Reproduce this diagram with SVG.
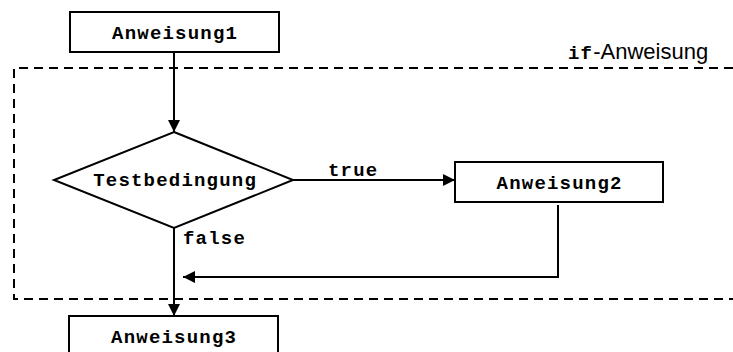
<svg xmlns="http://www.w3.org/2000/svg" width="733" height="352" viewBox="0 0 733 352">
  <style>
    .box { fill: #ffffff; stroke: #000000; stroke-width: 2; }
    .code { font-family: "Liberation Mono", "Courier New", monospace; font-weight: bold; font-size: 19px; letter-spacing: 1.2px; fill: #000000; }
    .sans { font-family: "Liberation Sans", Arial, sans-serif; font-size: 22px; letter-spacing: 0; font-weight: normal; fill: #000000; }
    .wire { fill: none; stroke: #000000; stroke-width: 2; }
    .frame { fill: none; stroke: #000000; stroke-width: 2; stroke-dasharray: 9 6; }
  </style>
  <defs>
    <marker id="arrow" viewBox="0 0 12 12" refX="12" refY="6" markerWidth="12" markerHeight="12" markerUnits="userSpaceOnUse" orient="auto">
      <path d="M0,0 L12,6 L0,12 Z" fill="#000000"/>
    </marker>
  </defs>

  <!-- if-statement frame (open on the right) -->
  <g id="if-frame">
    <path class="frame" d="M733,68 H14 V299 H733"/>
    <text x="568" y="59"><tspan class="code">if</tspan><tspan class="sans">-Anweisung</tspan></text>
  </g>

  <g id="connectors">
    <line class="wire" x1="174" y1="52" x2="174" y2="132" marker-end="url(#arrow)"/>
    <line class="wire" x1="293" y1="180" x2="455" y2="180" marker-end="url(#arrow)"/>
    <polyline class="wire" points="558,205 558,277 183,277" marker-end="url(#arrow)"/>
    <line class="wire" x1="174" y1="228" x2="174" y2="316" marker-end="url(#arrow)"/>
    <text class="code" x="328" y="176">true</text>
    <text class="code" x="183" y="244">false</text>
  </g>

  <g id="anweisung1">
    <rect class="box" x="70" y="12" width="209" height="40"/>
    <text class="code" x="175.1" y="38.5" text-anchor="middle">Anweisung1</text>
  </g>

  <g id="testbedingung">
    <polygon class="box" points="174,132 293,180 174,228 54,180"/>
    <text class="code" x="175.1" y="186" text-anchor="middle">Testbedingung</text>
  </g>

  <g id="anweisung2">
    <rect class="box" x="455" y="162" width="208" height="40"/>
    <text class="code" x="559.6" y="188.5" text-anchor="middle">Anweisung2</text>
  </g>

  <g id="anweisung3">
    <rect class="box" x="69" y="316" width="209" height="40"/>
    <text class="code" x="174.1" y="343" text-anchor="middle">Anweisung3</text>
  </g>
</svg>
